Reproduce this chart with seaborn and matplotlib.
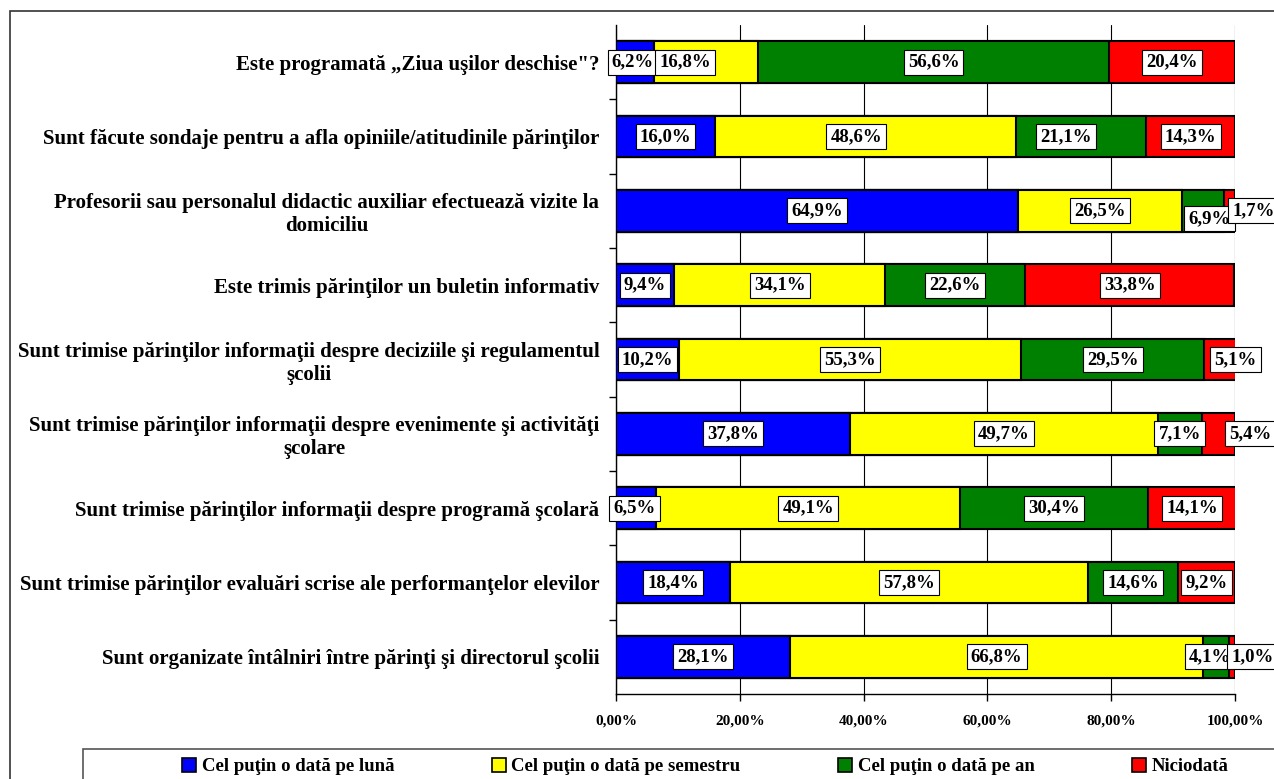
import numpy as np
import pandas as pd
import seaborn as sns
import matplotlib.pyplot as plt
from matplotlib.patches import Patch, Rectangle
from matplotlib.ticker import FixedLocator, FuncFormatter

# Categoriile (de sus in jos)
intrebari = [
    "Este programată „Ziua uşilor deschise\"?",
    "Sunt făcute sondaje pentru a afla opiniile/atitudinile părinţilor",
    "Profesorii sau personalul didactic auxiliar efectuează vizite la\ndomiciliu",
    "Este trimis părinţilor un buletin informativ",
    "Sunt trimise părinţilor informaţii despre deciziile şi regulamentul\nşcolii",
    "Sunt trimise părinţilor informaţii despre evenimente şi activităţi\nşcolare",
    "Sunt trimise părinţilor informaţii despre programă şcolară",
    "Sunt trimise părinţilor evaluări scrise ale performanţelor elevilor",
    "Sunt organizate întâlniri între părinţi şi directorul şcolii",
]

# Procentele pentru fiecare raspuns
lunar = [6.2, 16.0, 64.9, 9.4, 10.2, 37.8, 6.5, 18.4, 28.1]
semestrial = [16.8, 48.6, 26.5, 34.1, 55.3, 49.7, 49.1, 57.8, 66.8]
anual = [56.6, 21.1, 6.9, 22.6, 29.5, 7.1, 30.4, 14.6, 4.1]
niciodata = [20.4, 14.3, 1.7, 33.8, 5.1, 5.4, 14.1, 9.2, 1.0]

serii = ["Cel puţin o dată pe lună", "Cel puţin o dată pe semestru",
         "Cel puţin o dată pe an", "Niciodată"]
culori = ["#0000FF", "#FFFF00", "#008000", "#FF0000"]

df = pd.DataFrame({"intrebare": intrebari, serii[0]: lunar, serii[1]: semestrial,
                   serii[2]: anual, serii[3]: niciodata})
cumulat = df[serii].cumsum(axis=1)

sns.set_style("white")
plt.rcParams["font.family"] = ["Liberation Serif", "DejaVu Serif"]
plt.rcParams["font.weight"] = "bold"
plt.rcParams["text.color"] = "black"
plt.rcParams["xtick.color"] = "black"
plt.rcParams["ytick.color"] = "black"

fig = plt.figure(figsize=(12.74, 7.79), dpi=100)
ax = fig.add_axes([616 / 1274, 85 / 779, 619 / 1274, 669 / 779])

# Bare stivuite: desenam de la total spre stanga
for i in range(len(serii) - 1, -1, -1):
    sns.barplot(x=cumulat[serii[i]], y=df["intrebare"], color=culori[i], orient="h",
                width=0.565, edgecolor="black", linewidth=1.5, saturation=1, ax=ax, zorder=3)

# Etichetele procentuale (cu mici deplasari ca in original)
ajustari = {(0, 1): -3.4, (2, 2): 1.0, (2, 3): 3.8, (4, 3): 2.5,
            (5, 3): 5.2, (8, 2): -1.0, (8, 3): 3.3, (6, 0): -0.3, (0, 0): -0.4,
            (1, 2): -2.5, (1, 1): -1.5}
ajustari_y = {(2, 2): 0.1}
for r in range(len(intrebari)):
    start = 0
    for i, s in enumerate(serii):
        v = df.loc[r, s]
        xc = start + v / 2 + ajustari.get((r, i), 0)
        ax.text(xc, r + ajustari_y.get((r, i), 0), f"{v:.1f}%".replace(".", ","),
                ha="center", va="center", fontsize=13.5, fontweight="bold", zorder=5,
                bbox=dict(boxstyle="square,pad=0.22", fc="white", ec="black", lw=0.8),
                clip_on=False)
        start += v

ax.set_xlim(0, 100)
ax.set_ylim(len(intrebari) - 0.5, -0.5)
ax.xaxis.set_major_locator(FixedLocator([0, 20, 40, 60, 80, 100]))
ax.xaxis.set_major_formatter(FuncFormatter(lambda v, p: f"{v:.2f}%".replace(".", ",")))
ax.grid(axis="x", color="black", linewidth=0.8, zorder=0)
ax.set_axisbelow(True)
ax.set_xlabel("")
ax.set_ylabel("")
for sp in ["top", "right"]:
    ax.spines[sp].set_visible(False)
for sp in ["left", "bottom"]:
    ax.spines[sp].set_color("black")
    ax.spines[sp].set_linewidth(1)

ax.tick_params(axis="x", which="major", direction="out", length=5, width=1,
               labelsize=11, pad=10, bottom=True)
ax.tick_params(axis="y", which="major", length=0, pad=12, labelsize=15)
ax.yaxis.set_minor_locator(FixedLocator(np.arange(0.5, len(intrebari) - 0.5, 1)))
ax.tick_params(axis="y", which="minor", direction="out", length=5, width=1, left=True)
for lbl in ax.get_yticklabels():
    lbl.set_multialignment("center")
    lbl.set_fontweight("bold")
for lbl in ax.get_xticklabels():
    lbl.set_fontweight("bold")

# Chenarul figurii
fig.patches.append(Rectangle((10 / 1274, -0.05), 1.1, 1 - 11 / 779 + 0.05,
                             transform=fig.transFigure, fill=False,
                             ec="#333333", lw=1.2))

# Chenarul legendei (taiat jos si in dreapta, ca in original)
fig.patches.append(Rectangle((83 / 1274, -0.05), 1.1, 1 - 749 / 779 + 0.05,
                             transform=fig.transFigure, fill=False,
                             ec="#555555", lw=1.2))

# Legenda
handles = [Patch(facecolor=c, edgecolor="black", linewidth=1.2) for c in culori]
leg = fig.legend(handles, serii, loc="upper left", ncol=4,
                 bbox_to_anchor=(182 / 1274, 1 - 758 / 779),
                 frameon=False, fontsize=13.5, columnspacing=5.2,
                 handlelength=0.75, handleheight=0.75, handletextpad=0.3,
                 borderpad=0, borderaxespad=0)
for t in leg.get_texts():
    t.set_fontweight("bold")

fig.savefig("out.png", dpi=100)
